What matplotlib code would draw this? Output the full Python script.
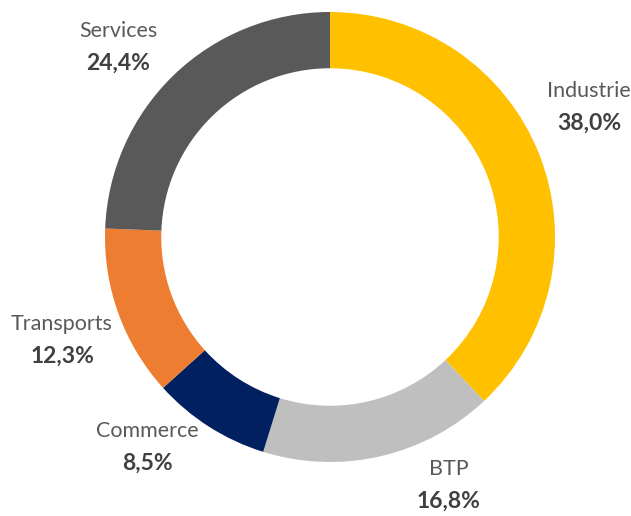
import matplotlib.pyplot as plt

# Répartition par secteur (%)
secteurs = ['Industrie', 'BTP', 'Commerce', 'Transports', 'Services']
parts = [38.0, 16.8, 8.5, 12.3, 24.4]
couleurs = ['#FFC000', '#BFBFBF', '#002060', '#ED7D31', '#595959']

# position des étiquettes (pixels, origine en bas à gauche)
label_xy = [(589, 409), (449, 31), (147, 69), (62, 176), (118, 469)]

fig = plt.figure(figsize=(6.31, 5.16), dpi=100)
ax = fig.add_axes([0, 0, 1, 1])
ax.set_xlim(0, 631)
ax.set_ylim(0, 516)
ax.set_aspect('equal')
ax.axis('off')

ax.pie(parts, colors=couleurs, startangle=90, counterclock=False,
       center=(330, 279), radius=225,
       wedgeprops=dict(width=225 * 0.25, edgecolor='none'))
ax.set_xlim(0, 631)
ax.set_ylim(0, 516)

for nom, val, (x, y) in zip(secteurs, parts, label_xy):
    ax.text(x, y + 16, nom, ha='center', va='center', fontsize=15.5,
            family='Lato', color='#595959')
    ax.text(x, y - 16, f'{val:.1f}%'.replace('.', ','), ha='center', va='center',
            fontsize=16.5, family='Lato', fontweight='bold', color='#404040')

fig.savefig('out.png', dpi=100)
